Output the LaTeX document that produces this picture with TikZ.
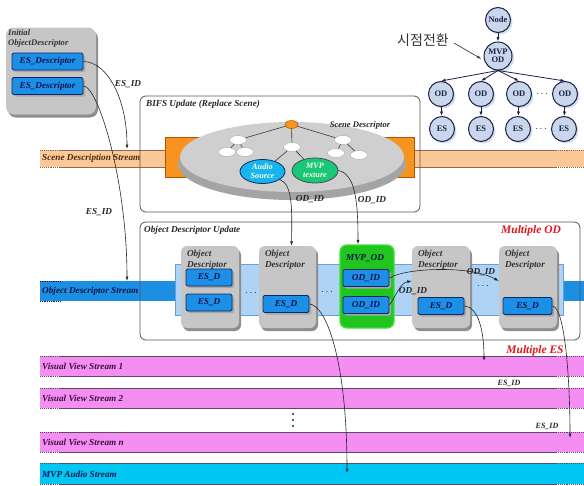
\documentclass[tikz,border=0pt]{standalone}
\usepackage{fontspec}
\setmainfont{Liberation Serif}
\newfontfamily\krfont{Noto Sans CJK KR}
\usetikzlibrary{arrows.meta,shadows,calc,shapes.geometric}

\definecolor{esblue}{HTML}{1E8FE6}
\definecolor{esedge}{HTML}{0B2B66}
\definecolor{navytext}{HTML}{0A1550}
\definecolor{odgray}{HTML}{C6C6C6}
\definecolor{odshadow}{HTML}{8E8E8E}
\definecolor{mvpgreen}{HTML}{22C41E}
\definecolor{mvpedge}{HTML}{3CE236}
\definecolor{panelblue}{HTML}{AFD3F5}
\definecolor{paneledge}{HTML}{6F9DD6}
\definecolor{streamblue}{HTML}{1C8FE2}
\definecolor{sceneband}{HTML}{FCC898}
\definecolor{sceneline}{HTML}{8C6A4A}
\definecolor{scenetext}{HTML}{4A2A10}
\definecolor{orangebox}{HTML}{F7931E}
\definecolor{orangeedge}{HTML}{A85800}
\definecolor{pinkband}{HTML}{F48EF2}
\definecolor{pinktext}{HTML}{3A1040}
\definecolor{cyanband}{HTML}{00C6F4}
\definecolor{bandline}{HTML}{5C4A62}
\definecolor{diskgray}{HTML}{CFCFCF}
\definecolor{diskrim}{HTML}{A4A4A4}
\definecolor{audiocyan}{HTML}{18B4F0}
\definecolor{texgreen}{HTML}{18C878}
\definecolor{circfill}{HTML}{C9D6EB}
\definecolor{circedge}{HTML}{1C2244}
\definecolor{circshade}{HTML}{D3DEEE}
\definecolor{redlabel}{HTML}{E0141E}
\definecolor{framegray}{HTML}{555555}
\definecolor{sourcetext}{HTML}{FFFDE0}

\newcommand\lblfont{\fontsize{9.2}{11}\selectfont\bfseries\itshape}

% one horizontal stream strip with solid borders and dotted ends
\newcommand\streamstrip[4]{%
  \fill[#3] (40,#1) rectangle (584,#2);
  \draw[#4, line width=0.9pt] (60,#1) -- (556,#1) (60,#2) -- (556,#2);
  \draw[#4, line width=0.9pt, densely dotted] (40,#1) -- (60,#1) (40,#2) -- (60,#2)
       (556,#1) -- (584,#1) (556,#2) -- (584,#2);
}

\begin{document}
\begin{tikzpicture}[x=1pt,y=-1pt,
  lbl/.style={font=\lblfont, inner sep=0pt},
  arr/.style={-{Latex[length=4.5pt,width=3pt]}, line width=0.6pt, draw=black!85},
  odbox/.style={rectangle, rounded corners=6pt, fill=odgray, inner sep=0pt,
    drop shadow={opacity=1, fill=odshadow, shadow xshift=2pt, shadow yshift=-3pt}},
  esbox/.style={rectangle, rounded corners=1.5pt, fill=esblue, draw=esedge,
    line width=0.8pt, text=navytext, font=\lblfont, inner sep=0pt,
    minimum width=46pt, minimum height=17pt,
    drop shadow={opacity=1, fill=gray!70, shadow xshift=2pt, shadow yshift=-2pt}},
  frame/.style={draw=framegray, line width=0.8pt, rounded corners=6pt},
  twig/.style={ellipse, fill=white, draw=gray!60, line width=0.5pt,
    minimum width=17pt, minimum height=9pt, inner sep=0pt},
  treenode/.style={circle, minimum size=25pt, inner sep=0pt, fill=circfill,
    draw=circedge, line width=1pt, text=circedge,
    font=\fontsize{8.5}{9}\selectfont\bfseries,
    drop shadow={opacity=1, fill=circshade, shadow xshift=2pt, shadow yshift=-2pt}},
  treeedge/.style={-{Latex[length=4.5pt,width=3.2pt]}, line width=0.8pt, draw=circedge},
  twigline/.style={draw=gray!45!black, line width=0.6pt}
]
\useasboundingbox (0,0) rectangle (584,485);

% ---- elementary streams -------------------------------------------------
\streamstrip{150}{167}{sceneband}{sceneline}
\fill[streamblue] (40,281) rectangle (176,301);
\fill[streamblue] (563,281) rectangle (584,301);
\draw[navytext, densely dotted, line width=0.8pt] (40,281) -- (60,281) (40,301) -- (60,301);
\fill[panelblue, draw=paneledge, line width=0.5pt] (175,264) rectangle (563,315);
\streamstrip{356}{376}{pinkband}{bandline}
\streamstrip{388}{408}{pinkband}{bandline}
\streamstrip{432}{452}{pinkband}{bandline}
\streamstrip{463}{484}{cyanband}{bandline}

\node[lbl, anchor=west, text=scenetext] (sdslbl) at (42,158.5) {Scene Description Stream};
\node[lbl, anchor=west, text=navytext] (odslbl) at (42,291) {Object Descriptor Stream};
\node[lbl, anchor=west, text=pinktext] (vv1lbl) at (42,366) {Visual View Stream 1};
\node[lbl, anchor=west, text=pinktext] (vv2lbl) at (42,398) {Visual View Stream 2};
\node[lbl, anchor=west, text=pinktext] (vvnlbl) at (42,442) {Visual View Stream n};
\node[lbl, anchor=west, text=navytext] (audlbl) at (42,474) {MVP Audio Stream};

% ---- BIFS update: scene descriptor disk -----------------------------------
\fill[orangebox, draw=orangeedge, line width=0.7pt] (165,137) rectangle (200,177);
\fill[orangebox, draw=orangeedge, line width=0.7pt] (382,137) rectangle (414,177);
\fill[diskrim] (292,164) ellipse [x radius=114, y radius=36];
\fill[diskgray] (292,157) ellipse [x radius=112, y radius=35];

\node[ellipse, fill=orangebox, draw=orangeedge, line width=0.5pt,
      minimum width=13pt, minimum height=8pt, inner sep=0pt] (sroot) at (291.5,124.5) {};
\node[twig] (w1) at (238,140) {};
\node[twig] (w2) at (227,152) {};
\node[twig] (w3) at (245,152) {};
\node[twig] (w4) at (292,147) {};
\node[twig] (w5) at (343,140) {};
\node[twig] (w6) at (336,153) {};
\node[twig] (w7) at (359,155) {};
\node[ellipse, fill=audiocyan, draw=esedge, line width=0.8pt, minimum width=45pt,
      minimum height=24pt, inner sep=0pt, align=center, text=sourcetext,
      font=\fontsize{8.2}{9}\selectfont\bfseries\itshape] (audio) at (262.5,171.5) {Audio\\Source};
\node[ellipse, fill=texgreen, draw=black!70, line width=0.8pt, minimum width=46pt,
      minimum height=25pt, inner sep=0pt, align=center, text=sourcetext,
      font=\fontsize{8.2}{9}\selectfont\bfseries\itshape] (mvptex) at (315,170.5) {MVP\\texture};
\draw[twigline] (sroot) -- (w1) (sroot) -- (w4) (sroot) -- (w5)
  (w1) -- (w2) (w1) -- (w3) (w5) -- (w6) (w5) -- (w7)
  (w4) -- (audio) (w4) -- (mvptex);
\node[lbl, text=black!85, font=\fontsize{8.6}{10}\selectfont\bfseries\itshape] (sdesc) at (360,125) {Scene Descriptor};

\draw[frame] (140,96) rectangle (420,212);
\node[lbl, anchor=west, text=black!85] (bifslbl) at (146,104) {BIFS Update (Replace Scene)};

% ---- object descriptor update ---------------------------------------------
\draw[frame] (140,222) rectangle (580,340);
\node[lbl, anchor=west, text=black!85] (odulbl) at (144,230) {Object Descriptor Update};
\node[lbl, text=redlabel, font=\fontsize{11.5}{13}\selectfont\bfseries\itshape] (multod) at (531,231) {Multiple OD};

\node[odbox, minimum width=58pt, minimum height=82pt] (od1) at (210,287) {};
\node[odbox, minimum width=57pt, minimum height=82pt] (od2) at (287.5,287) {};
\node[rectangle, rounded corners=7pt, fill=mvpgreen, draw=mvpedge, line width=1.4pt,
      minimum width=54pt, minimum height=83pt] (mvpod) at (367,286.5) {};
\node[odbox, minimum width=58pt, minimum height=82pt] (od4) at (441,287) {};
\node[odbox, minimum width=58pt, minimum height=82pt] (od5) at (528,287) {};

\foreach \b in {od1,od2,od4,od5}{
  \node[lbl, anchor=north west, align=left, text=black!80] (\b t) at ($(\b.north west)+(6,4)$) {Object\\Descriptor};
}
\node[lbl, text=navytext] (mvpodlbl) at (365,258) {MVP\_OD};

\node[esbox] (od1a) at (209,277.5) {ES\_D};
\node[esbox] (od1b) at (209,302.5) {ES\_D};
\node[esbox] (od2a) at (286,304) {ES\_D};
\node[esbox] (ida) at (366,278) {OD\_ID};
\node[esbox] (idb) at (366,305) {OD\_ID};
\node[esbox] (od4a) at (441,306) {ES\_D};
\node[esbox, minimum width=49pt] (od5a) at (527.5,306) {ES\_D};

\node[inner sep=0pt, text=navytext] (dots1) at (251,293) {$\cdots$};
\node[inner sep=0pt, text=navytext] (dots2) at (327,292) {$\cdots$};
\node[inner sep=0pt, text=navytext] (dots3) at (483,286) {$\cdots$};

% ---- initial object descriptor ------------------------------------------
\node[odbox, rounded corners=8pt, minimum width=90pt, minimum height=87pt] (iod) at (51,71) {};
\node[lbl, anchor=north west, align=left, text=black!80, font=\fontsize{8.6}{10}\selectfont\bfseries\itshape] (iodlbl) at (8,29) {Initial\\ObjectDescriptor};
\node[esbox, minimum width=71pt] (ies1) at (47.5,61.5) {ES\_Descriptor};
\node[esbox, minimum width=71pt] (ies2) at (47.5,86) {ES\_Descriptor};

% ---- stream entry points --------------------------------------------------
\coordinate (sdsin) at (127,149);
\coordinate (odsin) at (127,281);
\coordinate (vv1in) at (484,361);
\coordinate (vvnin) at (570,438);
\coordinate (audin) at (347,473);

% ---- connectors -------------------------------------------------------------
\draw[arr] (ies1.east) .. controls (108,62) and (127,100) .. (sdsin);
\draw[arr] (ies2.east) .. controls (98,86) and (127,180) .. (odsin);
\draw[arr] (audio.-25) .. controls (293,184) and (292,212) .. ([xshift=4pt]od2.north);
\draw[arr] (mvptex.east) .. controls (355,174) and (358,200) .. ([xshift=-9pt]mvpod.north);
\draw[arr] (ida.east) .. controls (405,268) and (470,265) .. ([yshift=6pt]od5.west);
\draw[arr] (idb.east) .. controls (396,296) and (400,283) .. ([yshift=6pt]od4.west);
\draw[arr] (od2a.east) .. controls (326,305) and (347,360) .. (audin);
\draw[arr] (od4a.east) .. controls (478,307) and (484,330) .. (vv1in);
\draw[arr] (od5a.east) .. controls (565,307) and (570,380) .. (vvnin);

\node[lbl, text=black!85] (esid1) at (128,84) {ES\_ID};
\node[lbl, text=black!85] (esid2) at (99,212) {ES\_ID};
\node[lbl, text=black!85] (odid1) at (310,199) {OD\_ID};
\node[lbl, text=black!85] (odid2) at (372,200) {OD\_ID};
\node[lbl, text=black!85] (odid3) at (481,272) {OD\_ID};
\node[lbl, text=black!85] (odid4) at (413,291) {OD\_ID};
\node[lbl, text=redlabel, font=\fontsize{11.5}{13}\selectfont\bfseries\itshape] (multes) at (535,351) {Multiple ES};
\node[lbl, text=black!85, font=\fontsize{8}{9}\selectfont\bfseries\itshape] (esid3) at (509,383) {ES\_ID};
\node[lbl, text=black!85, font=\fontsize{8}{9}\selectfont\bfseries\itshape] (esid4) at (547,426) {ES\_ID};
% vertical ellipsis between the visual view streams
\foreach \yy in {414,420,426}{ \fill[black!85] (293,\yy) circle [radius=1.2pt]; }

% ---- view switching tree ------------------------------------------------
\node[treenode] (tnode) at (498,20) {Node};
\node[treenode, minimum size=28pt, align=center, font=\fontsize{8.5}{8.5}\selectfont\bfseries] (tmvp) at (498,56) {MVP\\OD};
\node[treenode] (tod1) at (441,94) {OD};
\node[treenode] (tod2) at (481,94) {OD};
\node[treenode] (tod3) at (519,94) {OD};
\node[treenode] (tod4) at (565,94) {OD};
\node[treenode] (tes1) at (442,129) {ES};
\node[treenode] (tes2) at (481,129) {ES};
\node[treenode] (tes3) at (518,129) {ES};
\node[treenode] (tes4) at (564,129) {ES};
\node[inner sep=0pt, text=circedge] (tdots1) at (542,94) {$\cdots$};
\node[inner sep=0pt, text=circedge] (tdots2) at (541,129) {$\cdots$};
\draw[treeedge] (tnode) -- (tmvp);
\foreach \i in {1,2,3,4}{
  \draw[treeedge] (tmvp.south) -- (tod\i.north);
  \draw[treeedge] (tod\i) -- (tes\i);
}
\node[inner sep=0pt, text=black!80, font=\krfont\fontsize{14}{15}\selectfont] (viewsw) at (423,40) {시점전환};
\draw[-{Latex[length=4.5pt,width=3pt]}, line width=0.7pt, draw=black!75]
  ([xshift=5pt,yshift=-3pt]viewsw.east) -- ([xshift=-2pt,yshift=-3pt]tmvp.west);
\end{tikzpicture}
\end{document}
